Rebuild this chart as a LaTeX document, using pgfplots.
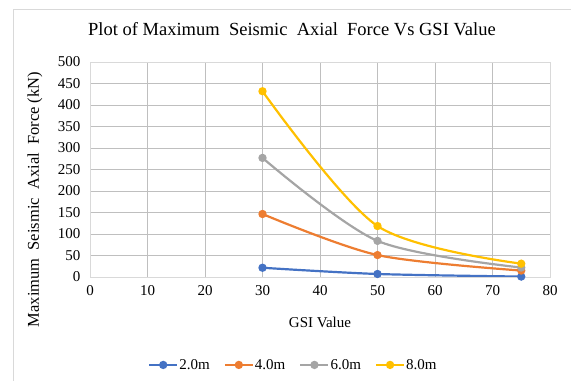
\documentclass[border=0pt]{standalone}
\usepackage{fontspec}
\setmainfont{Liberation Serif}
\usepackage{pgfplots}
\pgfplotsset{compat=1.18}
\definecolor{cblue}{HTML}{4472C4}
\definecolor{corange}{HTML}{ED7D31}
\definecolor{cgray}{HTML}{A5A5A5}
\definecolor{cyellow}{HTML}{FFC000}
\definecolor{grid}{HTML}{D9D9D9}
\begin{document}
\begin{tikzpicture}
\useasboundingbox (0,0) rectangle (571bp,381bp);
\draw[grid, line width=0.8bp] (13bp,0) -- (13bp,372bp) -- (571bp,372bp);
\begin{axis}[
  at={(90bp,104bp)}, anchor=south west,
  scale only axis, width=460bp, height=215bp,
  xmin=0, xmax=80, ymin=0, ymax=500,
  xtick={0,10,...,80}, ytick={0,50,...,500},
  grid=major, major grid style={grid, line width=0.8bp},
  axis line style={grid, line width=0.8bp},
  tick style={draw=none},
  /pgf/number format/assume math mode=true,
  ticklabel style={font=\fontsize{15bp}{18bp}\selectfont},
  xticklabel style={yshift=-5bp},
  yticklabel style={xshift=-6bp},
  title={Plot of Maximum\ \ Seismic\ \ Axial\ \ Force Vs GSI Value},
  title style={at={(axis description cs:0.439,1.126)}, anchor=center, font=\fontsize{18.5bp}{22bp}\selectfont},
  xlabel={GSI Value},
  xlabel style={at={(axis description cs:0.5,-0.209)}, anchor=center, font=\fontsize{15bp}{18bp}\selectfont},
  ylabel={Maximum\ \ Seismic\ \ Axial\ \ Force (kN)},
  ylabel style={at={(axis description cs:-0.1196,0.36)}, anchor=center, font=\fontsize{16.5bp}{18bp}\selectfont},
  legend columns=4,
  legend style={at={(axis description cs:0.441,-0.409)}, anchor=center, draw=none, fill=none,
    font=\fontsize{15bp}{18bp}\selectfont, column sep=0bp,
    nodes={inner xsep=1bp},
    /tikz/every even column/.append style={column sep=13bp}},
  legend image code/.code={\draw[#1, mark repeat=2, mark phase=2] plot coordinates {(0bp,0bp) (14bp,0bp) (28bp,0bp)};},
  every axis plot/.append style={line width=2.2bp, mark=*, mark size=3bp, smooth, tension=0.5},
]
\addplot[color=cblue, mark options={fill=cblue}] coordinates {(30,21.5) (50,7) (75,1)};
\addlegendentry{2.0m}
\addplot[color=corange, mark options={fill=corange}] coordinates {(30,146.5) (50,51) (75,15)};
\addlegendentry{4.0m}
\addplot[color=cgray, mark options={fill=cgray}] coordinates {(30,277) (50,84) (75,22)};
\addlegendentry{6.0m}
\addplot[color=cyellow, mark options={fill=cyellow}] coordinates {(30,432) (50,118.5) (75,31)};
\addlegendentry{8.0m}
\end{axis}
\end{tikzpicture}
\end{document}
